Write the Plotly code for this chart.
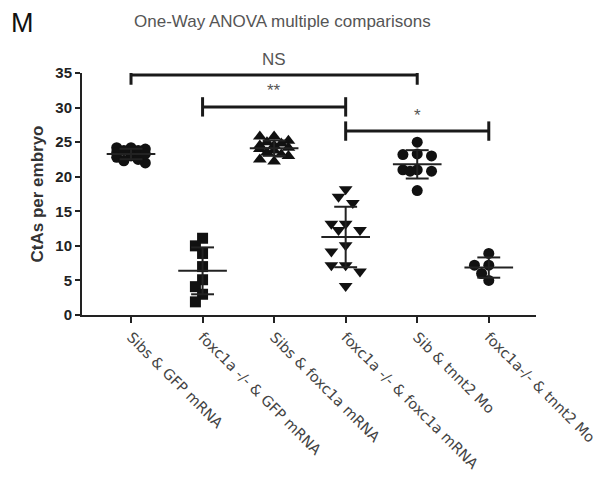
import numpy as np
import plotly.graph_objects as go

categories = ["Sibs & GFP mRNA", "foxc1a -/- & GFP mRNA", "Sibs & foxc1a mRNA",
              "foxc1a -/- & foxc1a mRNA", "Sib & tnnt2 Mo", "foxc1a-/- & tnnt2 Mo"]
sibs_gfp = [24.2, 24.0, 23.8, 24.2, 23.5, 23.0, 22.8, 22.3, 22.0, 22.5, 23.3, 23.8]
foxc1a_gfp = [11.1, 10.0, 8.9, 7.0, 5.1, 4.1, 3.0, 1.9]
sibs_foxc1a = [25.8, 25.8, 25.2, 25.0, 24.8, 24.5, 24.5, 24.2, 24.0, 23.8, 23.5, 23.2, 23.0, 22.5, 22.2]
foxc1a_foxc1a = [18.2, 17.1, 16.2, 13.2, 13.2, 12.3, 12.3, 10.1, 9.2, 7.2, 7.2, 6.3, 4.2]
sib_tnnt2 = [25.0, 23.2, 23.0, 23.3, 21.0, 20.8, 21.0, 20.8, 18.0]
foxc1a_tnnt2 = [8.9, 7.2, 7.2, 6.0, 5.0]
groups = [sibs_gfp, foxc1a_gfp, sibs_foxc1a, foxc1a_foxc1a, sib_tnnt2, foxc1a_tnnt2]
symbols = ["circle", "square", "triangle-up", "triangle-down", "circle", "circle"]

comparisons = [(0, 4, 34.7, "NS"), (1, 3, 30.1, "**"), (3, 5, 26.6, "*")]
y_ticks = [0, 5, 10, 15, 20, 25, 30, 35]

# pixel scales (for beeswarm layout)
PX_X = 71.5
PX_Y = 6.914
MS = 11
MAX_SPREAD = 21


def beeswarm(vals):
    order = np.argsort(vals)[::-1]
    placed = []
    offs = np.zeros(len(vals))
    step = 0.65 * MS
    cands = [0.0]
    k = 1
    while k * step <= MAX_SPREAD:
        cands += [-k * step, k * step]
        k += 1
    thr = 0.9 * MS
    for i in order:
        v = vals[i]
        best_c, best_ov = 0.0, None
        for c in cands:
            ov = 0.0
            for (pv, pc) in placed:
                d = np.hypot((v - pv) * PX_Y, c - pc)
                if d < thr:
                    ov += thr - d
            if ov == 0:
                best_c, best_ov = c, 0
                break
            if best_ov is None or ov < best_ov - 1e-9:
                best_c, best_ov = c, ov
        placed.append((v, best_c))
        offs[i] = best_c / PX_X
    return offs


fig = go.Figure()
for gi, vals in enumerate(groups):
    vals = np.array(vals, dtype=float)
    offs = beeswarm(vals)
    fig.add_trace(go.Scatter(
        x=gi + offs, y=vals, mode="markers",
        marker=dict(symbol=symbols[gi], size=MS + (1 if "triangle" in symbols[gi] else 0),
                    color="#111111", line=dict(width=0)),
        showlegend=False, cliponaxis=False))
    m = vals.mean()
    sd = vals.std(ddof=1)
    lc = "#222222"
    fig.add_trace(go.Scatter(x=[gi - 0.34, gi + 0.34], y=[m, m], mode="lines",
                             line=dict(color=lc, width=2), showlegend=False))
    fig.add_trace(go.Scatter(x=[gi, gi], y=[m - sd, m + sd], mode="lines",
                             line=dict(color=lc, width=2), showlegend=False))
    for yy in (m - sd, m + sd):
        fig.add_trace(go.Scatter(x=[gi - 0.16, gi + 0.16], y=[yy, yy], mode="lines",
                                 line=dict(color=lc, width=2), showlegend=False))

for a, b, yv, lab in comparisons:
    fig.add_shape(type="line", x0=a, x1=b, y0=yv, y1=yv, line=dict(color="#1a1a1a", width=3))
    for xx in (a, b):
        fig.add_shape(type="line", x0=xx, x1=xx, y0=yv - 1.4, y1=yv + 1.4,
                      line=dict(color="#1a1a1a", width=3))
    fig.add_annotation(x=(a + b) / 2, y=yv, text=lab, showarrow=False, yshift=16,
                       font=dict(size=17, color="#555555", family="Liberation Sans, Arial"))

PLOT_W = 606 - 82 - 70
PLOT_H = 492 - 73 - 177
fig.add_annotation(xref="paper", yref="paper", x=(22 - 82) / PLOT_W, y=1 + (73 - 23) / PLOT_H,
                   xanchor="center", yanchor="middle", text="M", showarrow=False,
                   font=dict(size=27, color="#111111", family="Liberation Sans, Arial"))
fig.add_annotation(xref="paper", yref="paper", x=(282 - 82) / PLOT_W, y=1 + (73 - 22) / PLOT_H,
                   xanchor="center", yanchor="middle", text="One-Way ANOVA multiple comparisons",
                   showarrow=False,
                   font=dict(size=17, color="#555555", family="Liberation Sans, Arial"))

fig.update_layout(
    width=606, height=492,
    margin=dict(l=82, r=70, t=73, b=177),
    plot_bgcolor="white", paper_bgcolor="white",
    font=dict(family="Liberation Sans, Arial", color="#222222"),
    xaxis=dict(range=[-0.685, 5.66], tickmode="array", tickvals=list(range(len(categories))),
               ticktext=categories, tickangle=45, ticks="outside", ticklen=6, tickwidth=2,
               tickcolor="#222222", showline=True, linecolor="#222222", linewidth=2,
               showgrid=False, zeroline=False, automargin=False,
               tickfont=dict(size=14.5, color="#444444", family="DejaVu Sans")),
    yaxis=dict(range=[0, 35], tickmode="array", tickvals=y_ticks, ticks="outside",
               ticklen=5, tickwidth=2, tickcolor="#222222", showline=True,
               linecolor="#222222", linewidth=2, showgrid=False, zeroline=False,
               automargin=False,
               tickfont=dict(size=15, color="#222222", weight="bold"),
               title=dict(text="CtAs per embryo", font=dict(size=17, color="#333333", weight="bold"),
                          standoff=7)),
)

fig.write_html("out.html", post_script="document.body.style.margin='0px';",
               config={"displayModeBar": False})
